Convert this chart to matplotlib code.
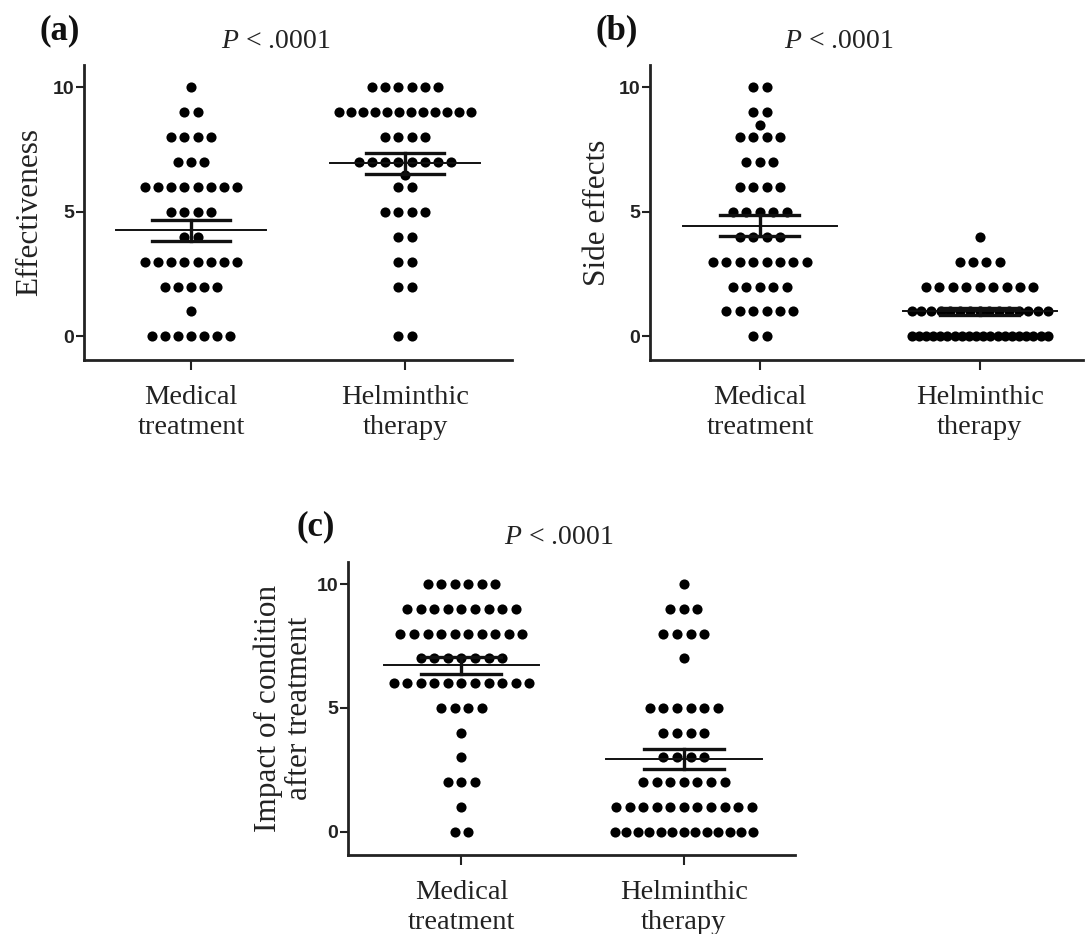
import matplotlib
matplotlib.use("Agg")
import matplotlib.pyplot as plt
import numpy as np

plt.rcParams['font.family'] = ['Liberation Serif', 'DejaVu Serif']
plt.rcParams['mathtext.fontset'] = 'custom'
plt.rcParams['mathtext.rm'] = 'Liberation Serif'
plt.rcParams['mathtext.it'] = 'Liberation Serif:italic'

groups = ['Medical\ntreatment', 'Helminthic\ntherapy']

# score levels and how many patients gave each score
eff_med_scores = [10, 9, 8, 7, 6, 5, 4, 3, 2, 1, 0]
eff_med_counts = [1, 2, 4, 3, 8, 4, 2, 8, 5, 1, 7]
eff_helm_scores = [10, 9, 8, 7, 6.5, 6, 5, 4, 3, 2, 0]
eff_helm_counts = [6, 12, 4, 8, 1, 2, 4, 2, 2, 2, 2]

side_med_scores = [10, 9, 8.5, 8, 7, 6, 5, 4, 3, 2, 1, 0]
side_med_counts = [2, 2, 1, 4, 3, 4, 5, 4, 8, 5, 6, 2]
side_helm_scores = [4, 3, 2, 1, 0]
side_helm_counts = [1, 4, 9, 15, 20]

imp_med_scores = [10, 9, 8, 7, 6, 5, 4, 3, 2, 1, 0]
imp_med_counts = [6, 9, 10, 7, 11, 4, 1, 1, 3, 1, 2]
imp_helm_scores = [10, 9, 8, 7, 5, 4, 3, 2, 1, 0]
imp_helm_counts = [1, 3, 4, 1, 6, 4, 4, 7, 11, 13]

W, H = 1087, 934
fig = plt.figure(figsize=(W / 100, H / 100), dpi=100)


def px_axes(left, right, top, bottom):
    return fig.add_axes([left / W, 1 - bottom / H, (right - left) / W, (bottom - top) / H])


def dot_rows(ax, xc, scores, counts, step=0.061, maxhalf=0.31):
    vals = []
    for s, n in zip(scores, counts):
        half = (n - 1) / 2 * step
        if half > maxhalf:
            half = maxhalf
        xs = xc + np.linspace(-half, half, n) if n > 1 else np.array([xc])
        ax.plot(xs, [s] * n, 'o', color='black', ms=7.3, mec='none', zorder=2)
        vals += [s] * n
    vals = np.array(vals, dtype=float)
    m = vals.mean()
    sem = vals.std(ddof=1) / np.sqrt(len(vals))
    ax.plot([xc - 0.35, xc + 0.35], [m, m], color='#111111', lw=1.4, zorder=3)
    for y in (m - sem, m + sem):
        ax.plot([xc - 0.18, xc + 0.18], [y, y], color='#111111', lw=2.4, zorder=3)
    ax.plot([xc, xc], [m - sem, m + sem], color='#111111', lw=2.4, zorder=3)


def style(ax, ylabel, xlim, labelpad):
    ax.set_xlim(*xlim)
    ax.set_ylim(-0.95, 10.9)
    for side in ['top', 'right']:
        ax.spines[side].set_visible(False)
    for side in ['left', 'bottom']:
        ax.spines[side].set_linewidth(2)
        ax.spines[side].set_color('#222222')
    ax.set_yticks([0, 5, 10])
    ax.set_xticks([0, 1])
    ax.set_xticklabels(groups, fontsize=20.5, linespacing=1.24, color='#222222')
    for lab in ax.get_yticklabels():
        lab.set_fontfamily('Liberation Sans')
        lab.set_fontweight('bold')
        lab.set_fontsize(14)
        lab.set_color('#222222')
    ax.tick_params(axis='y', length=6, width=1.5, pad=1, color='#222222')
    ax.tick_params(axis='x', length=7, width=1.5, pad=11, color='#222222')
    ax.set_ylabel(ylabel, fontsize=22.5, labelpad=labelpad, linespacing=1.07, color='#222222')


ax_a = px_axes(84, 512, 65, 360)
dot_rows(ax_a, 0, eff_med_scores, eff_med_counts)
dot_rows(ax_a, 1, eff_helm_scores, eff_helm_counts)
style(ax_a, 'Effectiveness', (-0.5, 1.5), 6)

ax_b = px_axes(650, 1083, 65, 360)
dot_rows(ax_b, 0, side_med_scores, side_med_counts)
dot_rows(ax_b, 1, side_helm_scores, side_helm_counts)
style(ax_b, 'Side effects', (-0.5, 1.47), 5)

ax_c = px_axes(348, 795, 562, 855)
dot_rows(ax_c, 0, imp_med_scores, imp_med_counts)
dot_rows(ax_c, 1, imp_helm_scores, imp_helm_counts)
style(ax_c, 'Impact of condition\nafter treatment', (-0.51, 1.5), 2)

# panel letters and P values
for lab, x, y in [('(a)', 60, 31), ('(b)', 617, 31), ('(c)', 316, 527)]:
    fig.text(x / W, 1 - y / H, lab, fontsize=25, fontweight='bold',
             ha='center', va='center', color='#111111')
for x, y in [(276, 42), (839, 42), (559, 538)]:
    fig.text(x / W, 1 - y / H, r'$\mathit{P}$ < .0001', fontsize=20,
             ha='center', va='center', color='#222222')

fig.savefig('out.png', dpi=100)
